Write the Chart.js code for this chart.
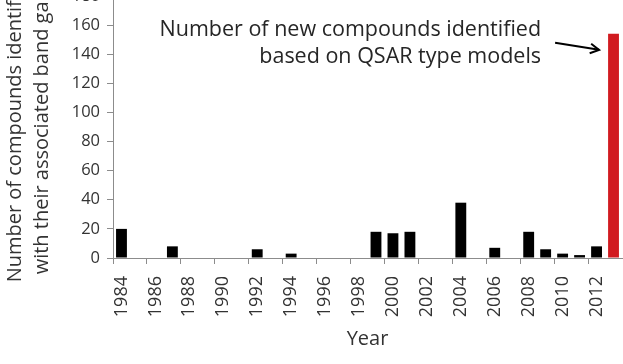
<!DOCTYPE html>
<html>
<head>
<meta charset="utf-8">
<script src="https://cdn.jsdelivr.net/npm/chart.js@4"></script>
<style>
  html, body { margin: 0; padding: 0; background: #fff; }
  /* the reference is cropped at the top, so the canvas sits a bit higher than the window */
  #wrap { position: relative; width: 623px; height: 364px; overflow: hidden; }
  #box { position: absolute; left: 0; top: -40px; width: 650px; height: 404px; }
</style>
</head>
<body>
<div id="wrap"><div id="box"><canvas id="chart"></canvas></div></div>
<script>
const years = ['1984', '1985', '1986', '1987', '1988', '1989', '1990', '1991', '1992', '1993',
  '1994', '1995', '1996', '1997', '1998', '1999', '2000', '2001', '2002', '2003',
  '2004', '2005', '2006', '2007', '2008', '2009', '2010', '2011', '2012', '2013'];
const counts = [20, 0, 0, 8, 0, 0, 0, 0, 6, 0,
  3, 0, 0, 0, 0, 18, 17, 18, 0, 0,
  38, 0, 7, 0, 18, 6, 3, 2, 8, 154];
const qsarYear = '2013';
const yMax = 180;
const yStep = 20;
const yTitle = ['Number of compounds identified', 'with their associated band gaps'];
const noteLines = ['Number of new compounds identified', 'based on QSAR type models'];

const axisGray = '#8c8c8c';
const textGray = '#333333';
Chart.defaults.font.family = '"Open Sans", sans-serif';

const barColors = years.map((yr) => (yr === qsarYear ? '#d11b20' : '#000000'));

// text + arrow pointing at the QSAR bar
const qsarNote = {
  id: 'qsarNote',
  afterDatasetsDraw(chart) {
    const { ctx, scales } = chart;
    const bar = chart.getDatasetMeta(0).data[years.indexOf(qsarYear)];
    const tipX = bar.x - bar.width / 2 - 9;
    const tipY = scales.y.getPixelForValue(143);
    const tailX = tipX - 44;
    const tailY = tipY - 7;
    ctx.save();
    ctx.strokeStyle = '#000';
    ctx.lineWidth = 2;
    ctx.beginPath();
    ctx.moveTo(tailX, tailY);
    ctx.lineTo(tipX, tipY);
    ctx.stroke();
    const ang = Math.atan2(tipY - tailY, tipX - tailX);
    ctx.beginPath();
    ctx.moveTo(tipX - 10 * Math.cos(ang - 0.5), tipY - 10 * Math.sin(ang - 0.5));
    ctx.lineTo(tipX, tipY);
    ctx.lineTo(tipX - 10 * Math.cos(ang + 0.5), tipY - 10 * Math.sin(ang + 0.5));
    ctx.stroke();

    ctx.font = '21.5px "Open Sans"';
    ctx.fillStyle = '#262626';
    ctx.textAlign = 'right';
    ctx.textBaseline = 'alphabetic';
    const textRight = tipX - 58;
    ctx.fillText(noteLines[0], textRight, tipY - 14);
    ctx.fillText(noteLines[1], textRight, tipY + 13.5);
    ctx.restore();
  },
};

new Chart(document.getElementById('chart'), {
  type: 'bar',
  data: {
    labels: years,
    datasets: [{
      data: counts,
      backgroundColor: barColors,
      borderWidth: 0,
      barPercentage: 0.64,
      categoryPercentage: 1,
    }],
  },
  options: {
    responsive: true,
    maintainAspectRatio: false,
    animation: false,
    layout: { padding: { top: 36, right: 28, bottom: 0, left: 0 } },
    plugins: {
      legend: { display: false },
      tooltip: { enabled: false },
    },
    scales: {
      x: {
        offset: true,
        grid: {
          offset: true,
          drawOnChartArea: false,
          tickLength: 6,
          tickColor: (c) => (c.index % 2 === 0 ? axisGray : 'rgba(0,0,0,0)'),
        },
        border: { color: axisGray, width: 1 },
        ticks: {
          autoSkip: false,
          minRotation: 90,
          maxRotation: 90,
          padding: 12,
          color: textGray,
          font: { size: 18 },
          callback: (v, i) => (i % 2 === 0 ? years[i] : ''),
        },
        title: {
          display: true,
          text: 'Year',
          color: textGray,
          font: { size: 20 },
          padding: { top: 0, bottom: 13 },
        },
        afterFit: (s) => { s.height = 106; },
      },
      y: {
        min: 0,
        max: yMax,
        grid: { drawOnChartArea: false, tickLength: 6, tickColor: axisGray },
        border: { color: axisGray, width: 1 },
        ticks: {
          stepSize: yStep,
          padding: 7,
          color: textGray,
          font: { size: 16.5 },
        },
        title: {
          display: true,
          text: yTitle,
          color: textGray,
          font: { size: 20, lineHeight: 1.35 },
          padding: { top: 2, bottom: 0 },
        },
        afterFit: (s) => { s.width = 113; },
      },
    },
  },
  plugins: [qsarNote],
});
</script>
</body>
</html>
